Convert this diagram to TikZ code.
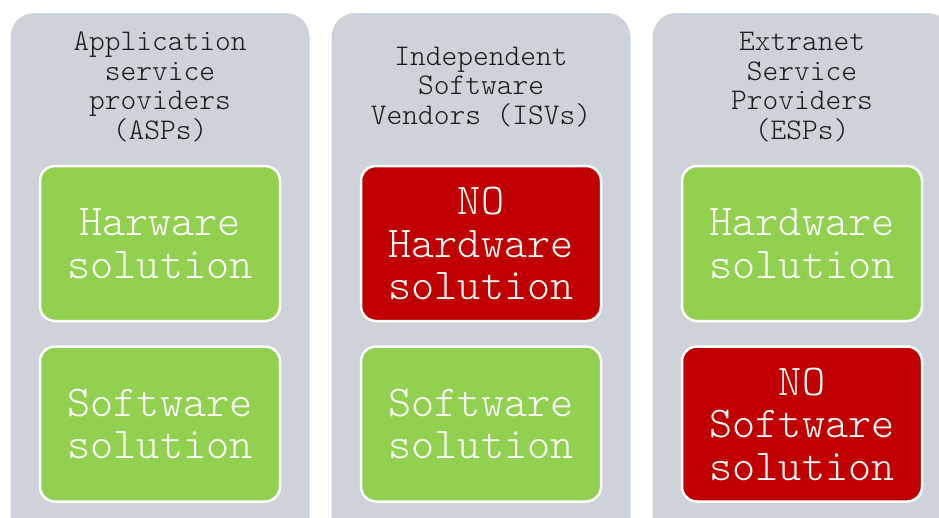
\documentclass[tikz,border=0pt]{standalone}
\usepackage{fontspec}
\setmonofont{Latin Modern Mono Light}
\usetikzlibrary{positioning}
\definecolor{colgrey}{RGB}{206,211,217}
\definecolor{okgreen}{RGB}{146,208,80}
\definecolor{nored}{RGB}{192,0,0}
\tikzset{
  column/.style={fill=colgrey,rounded corners=24pt,minimum width=299pt,minimum height=532pt,inner sep=0pt},
  header/.style={font=\ttfamily\fontsize{30}{29.5}\selectfont,align=center,text=black!90,inner sep=0pt},
  solbox/.style={draw=white,line width=2.5pt,rounded corners=15pt,minimum width=240pt,minimum height=155pt,
    font=\ttfamily\fontsize{44}{42.5}\selectfont,align=center,text=white,inner sep=0pt},
  okbox/.style={solbox,fill=okgreen},
  nobox/.style={solbox,fill=nored}
}
\begin{document}
\begin{tikzpicture}[x=1pt,y=1pt]
\useasboundingbox (0,0) rectangle (939,-517);
\clip (0,0) rectangle (939,-517);
\fill[white] (0,0) rectangle (939,-517);
% columns
\node[column] (asp) at (160,-279) {};
\node[column] (isv) at (481,-279) {};
\node[column] (esp) at (802,-279) {};
% headers
\node[header] (asphead) at (160,-87) {Application\\service\\providers\\(ASPs)};
\node[header] (isvhead) at (481,-87) {Independent\\Software\\Vendors (ISVs)};
\node[header] (esphead) at (802,-87) {Extranet\\Service\\Providers\\(ESPs)};
% solutions
\node[okbox] (asphw) at (160,-243.5) {Harware\\solution};
\node[okbox,below=23pt of asphw] (aspsw) {Software\\solution};
\node[nobox] (isvhw) at (481,-243.5) {NO\\Hardware\\solution};
\node[okbox,below=23pt of isvhw] (isvsw) {Software\\solution};
\node[okbox] (esphw) at (802,-243.5) {Hardware\\solution};
\node[nobox,below=23pt of esphw] (espsw) {NO\\Software\\solution};
\end{tikzpicture}
\end{document}
